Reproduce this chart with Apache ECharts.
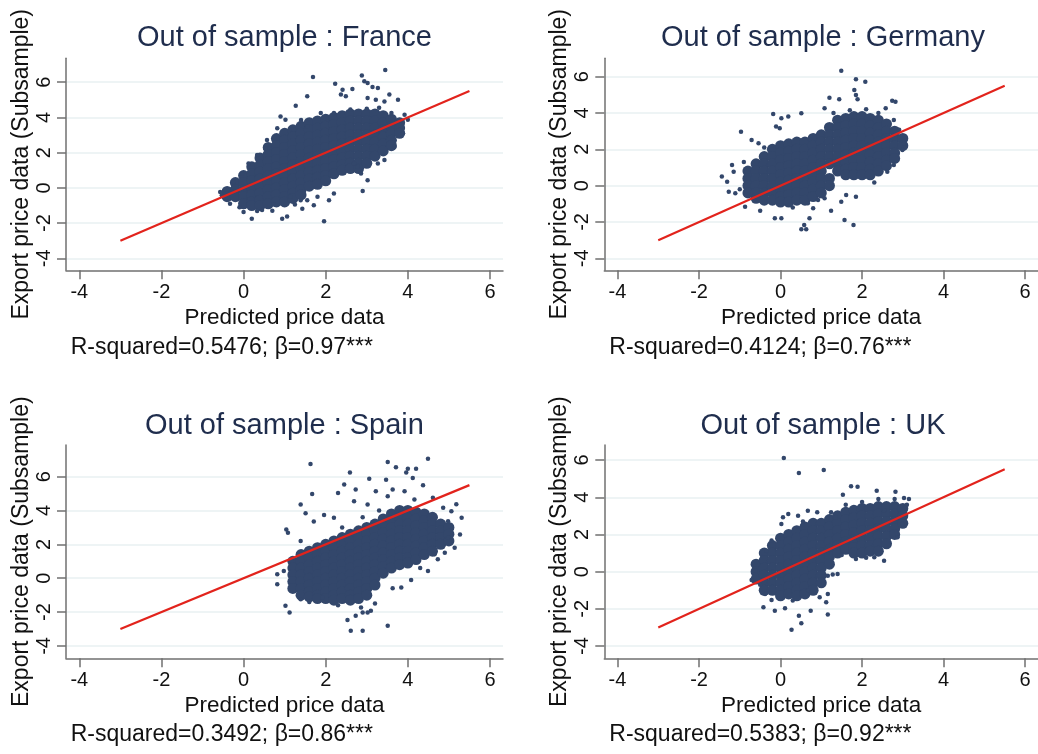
<!DOCTYPE html>
<html><head><meta charset="utf-8">
<script src="https://cdn.jsdelivr.net/npm/echarts@6/dist/echarts.min.js"></script>
<style>html,body{margin:0;padding:0;background:#fff}#c{width:1038px;height:754px}</style>
</head><body><div id="c"></div>
<script>
// ---- text ----
const panelTitles = ['Out of sample : France','Out of sample : Germany','Out of sample : Spain','Out of sample : UK'];
const statTexts = ['R-squared=0.5476; β=0.97***','R-squared=0.4124; β=0.76***','R-squared=0.3492; β=0.86***','R-squared=0.5383; β=0.92***'];
const xAxisName = 'Predicted price data';
const yAxisName = 'Export price data (Subsample)';
const xTickValues = [-4,-2,0,2,4,6];
const yTickValues = [-4,-2,0,2,4,6];
// fitted 45-degree line endpoints (same in every panel)
const fitX = [-3, 5.5];
const fitY = [-3, 5.5];

// ---- dense cores: [x, [y values in that column]] ----
const franceCore = [
 [-0.4,[-0.2,-0.5]],
 [-0.2,[0.3,-0.1,-0.5]],
 [0.0,[0.7,0.3,-0.1,-0.5,-0.9]],
 [0.2,[1.2,0.8,0.4,0.0,-0.4,-0.8,-1.0]],
 [0.4,[1.7,1.3,0.9,0.5,0.1,-0.3,-0.7,-1.0]],
 [0.6,[2.3,1.9,1.5,1.1,0.7,0.3,-0.1,-0.5,-0.9]],
 [0.8,[2.8,2.4,2.0,1.6,1.2,0.8,0.4,0.0,-0.4,-0.8]],
 [1.0,[3.1,2.7,2.3,1.9,1.5,1.1,0.7,0.3,-0.1,-0.5,-0.8]],
 [1.2,[3.3,2.9,2.5,2.1,1.7,1.3,0.9,0.5,0.1,-0.3,-0.6]],
 [1.4,[3.5,3.1,2.7,2.3,1.9,1.5,1.1,0.7,0.3,-0.1,-0.4]],
 [1.6,[3.7,3.3,2.9,2.5,2.1,1.7,1.3,0.9,0.5,0.1]],
 [1.8,[3.8,3.4,3.0,2.6,2.2,1.8,1.4,1.0,0.6,0.2]],
 [2.0,[3.9,3.5,3.1,2.7,2.3,1.9,1.5,1.1,0.7,0.4]],
 [2.2,[4.0,3.6,3.2,2.8,2.4,2.0,1.6,1.2,0.8]],
 [2.4,[4.1,3.7,3.3,2.9,2.5,2.1,1.7,1.3,1.0]],
 [2.6,[4.2,3.8,3.4,3.0,2.6,2.2,1.8,1.4,1.1]],
 [2.8,[4.2,3.8,3.4,3.0,2.6,2.2,1.8,1.4,1.1]],
 [3.0,[4.2,3.8,3.4,3.0,2.6,2.2,1.8,1.4]],
 [3.2,[4.2,3.8,3.4,3.0,2.6,2.2,1.8]],
 [3.4,[4.1,3.7,3.3,2.9,2.5,2.1]],
 [3.6,[3.9,3.5,3.1,2.7,2.4]],
 [3.8,[3.7,3.4,3.1]]
];
const franceOut = [
 [1.69,6.3],[2.88,6.38],[3.45,6.69],[1.55,5.2],[2.23,5.92],[2.41,5.58],[2.65,5.62],[2.94,6.06],[3.02,5.96],[3.14,5.73],
 [3.27,5.68],[2.37,5.3],[2.49,5.2],[3.02,5.1],[3.22,5.0],[3.43,4.91],[3.55,5.3],[3.76,5.0],[1.27,4.67],[0.9,4.06],
 [1.02,3.87],[0.82,3.39],[0.57,2.72],[0.53,2.25],[0.33,1.87],[0.12,1.39],[-0.04,0.82],[-0.24,0.34],[-0.57,-0.23],[-0.53,-0.42],
 [-0.33,-0.9],[0,-1.37],[0.2,-1.75],[0.33,-1.31],[0.94,-1.75],[1.06,-1.62],[1.43,-1.18],[1.71,-0.99],[1.96,-1.89],[2.08,-0.7],
 [2.2,-0.32],[2.9,-0.17],[3.02,0.44],[3.27,1.39],[3.43,1.58],[3.67,2.34],[3.88,3.1],[4.0,3.87],[3.92,4.15],[2.69,1.39],
 [2.78,1.2],[2.86,0.82],[1.39,-0.7],[0.73,-0.93],[1.14,-0.51],[1.55,-0.7],[1.8,-0.51],[1.88,4.25],[1.55,3.49],[1.22,3.3],
 [2.6,4.45],[3.0,4.5],[3.3,4.55],[2.2,4.25],[1.4,3.85],[3.6,4.25],[0.45,-1.25],[0.7,-1.3],[-0.1,-1.1],[1.25,-0.95]
];

const germanyCore = [
 [-0.8,[0.8,0.4,0.0,-0.4]],
 [-0.6,[1.2,0.8,0.4,0.0,-0.4,-0.7]],
 [-0.4,[1.6,1.2,0.8,0.4,0.0,-0.4,-0.8]],
 [-0.2,[2.0,1.6,1.2,0.8,0.4,0.0,-0.4,-0.8]],
 [0.0,[2.2,1.8,1.4,1.0,0.6,0.2,-0.2,-0.6,-0.9]],
 [0.2,[2.3,1.9,1.5,1.1,0.7,0.3,-0.1,-0.5,-0.9]],
 [0.4,[2.4,2.0,1.6,1.2,0.8,0.4,0.0,-0.4,-0.8]],
 [0.6,[2.4,2.0,1.6,1.2,0.8,0.4,0.0,-0.4,-0.8]],
 [0.8,[2.6,2.2,1.8,1.4,1.0,0.6,0.2,-0.2,-0.6]],
 [1.0,[2.8,2.4,2.0,1.6,1.2,0.8,0.4,0.0,-0.4]],
 [1.2,[3.2,2.8,2.4,2.0,1.6,1.2,0.4,0.0]],
 [1.4,[3.6,3.2,2.8,2.4,2.0,1.6,1.2,0.8]],
 [1.6,[3.7,3.3,2.9,2.5,2.1,1.7,1.3,0.9,0.6]],
 [1.8,[3.8,3.4,3.0,2.6,2.2,1.8,1.4,1.0,0.6]],
 [2.0,[3.8,3.4,3.0,2.6,2.2,1.8,1.4,1.0,0.6]],
 [2.2,[3.7,3.3,2.9,2.5,2.1,1.7,1.3,0.9,0.6]],
 [2.4,[3.6,3.2,2.8,2.4,2.0,1.6,1.2,0.8]],
 [2.6,[3.4,3.0,2.6,2.2,1.8,1.4,1.1]],
 [2.8,[3.0,2.6,2.2,1.8,1.5]],
 [3.0,[2.6,2.2]]
];
const germanyOut = [
 [1.49,6.33],[1.85,5.85],[2.08,5.72],[1.81,5.27],[1.85,4.99],[1.89,4.75],[1.2,4.84],[1.44,4.75],[1.08,4.26],[2.74,4.68],
 [2.82,4.62],[2.58,4.26],[-0.18,3.94],[0.02,3.71],[0.19,3.8],[0.51,3.98],[-0.11,3.25],[-0.02,3.16],[-0.97,2.97],[-0.71,2.51],
 [-0.54,2.33],[-1.44,0.5],[-1.31,0.22],[-1.19,1.14],[-1.15,0.77],[-1.27,-0.33],[-1.11,-0.42],[-0.87,-1.16],[-0.5,-1.38],[-0.14,-1.8],
 [0.02,-1.8],[0.51,-2.4],[0.63,-2.4],[0.58,-2.17],[0.71,-1.8],[0.8,-1.25],[1.24,-1.38],[1.49,-0.88],[1.61,-0.51],[1.57,-1.89],
 [1.79,-2.17],[1.85,-0.61],[2.3,0.17],[2.62,0.77],[2.78,1.14],[3.03,2.33],[2.99,1.96],[2.91,3.07],[2.78,3.61],[0.92,-0.79],
 [1.08,-0.7],[0.67,-0.97],[-0.9,1.3],[-1.0,-0.2],[-0.4,2.1],[0.3,-1.2],[1.3,4.0],[1.7,4.15],[2.1,4.2],[2.4,4.0]
];

const spainCore = [
 [1.2,[1.0,0.6,0.2,-0.2,-0.6]],
 [1.4,[1.4,1.0,0.6,0.2,-0.2,-0.6,-1.0]],
 [1.6,[1.6,1.2,0.8,0.4,0.0,-0.4,-0.8,-1.1]],
 [1.8,[1.8,1.4,1.0,0.6,0.2,-0.2,-0.6,-1.0,-1.2]],
 [2.0,[2.0,1.6,1.2,0.8,0.4,0.0,-0.4,-0.8,-1.2]],
 [2.2,[2.2,1.8,1.4,1.0,0.6,0.2,-0.2,-0.6,-1.0,-1.3]],
 [2.4,[2.4,2.0,1.6,1.2,0.8,0.4,0.0,-0.4,-0.8,-1.2]],
 [2.6,[2.6,2.2,1.8,1.4,1.0,0.6,0.2,-0.2,-0.6,-1.0,-1.3]],
 [2.8,[2.8,2.4,2.0,1.6,1.2,0.8,0.4,0.0,-0.4,-0.8,-1.2]],
 [3.0,[3.0,2.6,2.2,1.8,1.4,1.0,0.6,0.2,-0.2,-0.6,-1.0]],
 [3.2,[3.2,2.8,2.4,2.0,1.6,1.2,0.8,0.4,0.0,-0.4]],
 [3.4,[3.5,3.1,2.7,2.3,1.9,1.5,1.1,0.7,0.3]],
 [3.6,[3.8,3.4,3.0,2.6,2.2,1.8,1.4,1.0,0.6]],
 [3.8,[4.0,3.6,3.2,2.8,2.4,2.0,1.6,1.2,0.8]],
 [4.0,[4.0,3.6,3.2,2.8,2.4,2.0,1.6,1.2,0.9]],
 [4.2,[3.9,3.5,3.1,2.7,2.3,1.9,1.5,1.1]],
 [4.4,[3.8,3.4,3.0,2.6,2.2,1.8,1.4]],
 [4.6,[3.6,3.2,2.8,2.4,2.0,1.6]],
 [4.8,[3.2,2.8,2.4,2.0]],
 [5.0,[3.0,2.6,2.2]]
];
const spainOut = [
 [1.63,6.75],[2.59,6.25],[3.51,6.86],[3.71,6.55],[4.0,6.47],[4.2,6.47],[4.49,7.06],[3.96,6.24],[3.06,5.88],[3.47,5.82],
 [4.12,5.92],[4.37,5.49],[2.45,5.53],[1.67,4.98],[2.3,5.04],[2.73,5.24],[3.22,5.14],[3.63,5.24],[1.39,4.35],[4.16,4.65],
 [5.06,3.96],[5.31,3.57],[5.18,4.37],[5.27,2.59],[5.14,1.8],[4.65,1.41],[4.49,0.43],[4.08,-0.1],[3.84,-0.55],[3.63,-0.59],
 [3.51,-2.8],[2.61,-3.1],[2.9,-3.1],[2.53,-2.47],[2.73,-2.22],[2.9,-2.02],[3.02,-2.02],[3.1,-1.92],[2.86,-1.73],[1.92,-1.14],
 [1.39,-1.24],[1.02,-1.63],[1.12,-2.02],[0.82,-0.35],[0.82,0.24],[0.98,0.43],[1.04,2.88],[1.08,2.69],[1.39,2.2],[1.51,3.84],
 [1.71,3.35],[1.96,3.73],[2.2,3.57],[2.69,4.55],[3.02,4.35],[3.51,4.84],[3.92,5.14],[4.61,4.75],[4.86,4.16],[4.98,3.37],
 [4.98,2.39],[4.9,1.51],[4.73,1.12],[2.4,3.0],[2.9,3.6],[3.3,4.0],[3.2,-1.5],[2.3,-1.6],[1.6,-1.4],[4.3,0.6]
];

const ukCore = [
 [-0.6,[0.4,0.0,-0.4]],
 [-0.4,[1.0,0.6,0.2,-0.2,-0.6,-1.0]],
 [-0.2,[1.4,1.0,0.6,0.2,-0.2,-0.6,-1.0]],
 [0.0,[1.8,1.4,1.0,0.6,0.2,-0.2,-0.6,-1.0,-1.3]],
 [0.2,[2.0,1.6,1.2,0.8,0.4,0.0,-0.4,-0.8,-1.2]],
 [0.4,[2.2,1.8,1.4,1.0,0.6,0.2,-0.2,-0.6,-1.0,-1.3]],
 [0.6,[2.4,2.0,1.6,1.2,0.8,0.4,0.0,-0.4,-0.8,-1.2]],
 [0.8,[2.6,2.2,1.8,1.4,1.0,0.6,0.2,-0.2,-0.6,-1.0]],
 [1.0,[2.6,2.2,1.8,1.4,1.0,0.6,0.2,-0.2,-0.6]],
 [1.2,[2.8,2.4,2.0,1.6,1.2,0.8,0.4]],
 [1.4,[3.0,2.6,2.2,1.8,1.4,1.0]],
 [1.6,[3.2,2.8,2.4,2.0,1.6,1.2]],
 [1.8,[3.3,2.9,2.5,2.1,1.7,1.3,1.0]],
 [2.0,[3.4,3.0,2.6,2.2,1.8,1.4,1.0]],
 [2.2,[3.4,3.0,2.6,2.2,1.8,1.4,1.1]],
 [2.4,[3.5,3.1,2.7,2.3,1.9,1.5,1.1]],
 [2.6,[3.5,3.1,2.7,2.3,1.9,1.5]],
 [2.8,[3.5,3.1,2.7,2.3,2.0]],
 [3.0,[3.4,3.0,2.6]]
];
const ukOut = [
 [0.08,6.11],[0.45,5.3],[1.06,5.47],[1.53,4.14],[1.73,4.59],[1.89,4.57],[2.36,4.35],[2.82,4.3],[3.03,3.96],[3.15,3.91],
 [0.19,3.1],[0.43,3.01],[0.67,3.28],[1.24,3.19],[2.54,3.28],[3.03,2.92],[2.99,2.56],[2.87,1.85],[2.54,0.59],[2.3,0.77],
 [1.85,0.68],[1.4,-0.13],[1.28,-0.16],[1.16,-1.2],[1.12,-1.65],[1.16,-2.31],[0.74,-2.1],[0.51,-2.78],[0.45,-2.37],[0.27,-3.12],
 [0.11,-1.97],[-0.14,-2.1],[-0.42,-1.92],[-0.38,-1.2],[-0.22,-1.52],[-0.71,-0.45],[-0.61,0.05],[-0.34,1.13],[-0.22,1.67],[0.02,2.56],
 [0.06,2.92],[0.67,-1.02],[0.96,-1.38],[1.16,-0.22],[0.9,3.2],[1.6,3.6],[2.0,3.75],[2.4,3.9],[2.8,3.9],[3.1,3.6],
 [1.5,0.9],[2.1,0.75],[0.3,-1.55],[-0.5,-0.7],[0.55,2.7],[1.35,2.9]
];

// ---- render ----
const FONT = '"Liberation Sans", Arial, Helvetica, sans-serif';
const PT = '#33476b';
const AX = '#707070';
const panels = [
 {core: franceCore,  out: franceOut,  grid:{left:66,   top:58.3, width:437, height:212},   yMin:-4.68, yMax:7.36, titleX:284.5, titleY:38,  statX:70.7,  statY:348},
 {core: germanyCore, out: germanyOut, grid:{left:604.3,top:58.3, width:437, height:212},   yMin:-4.66, yMax:7.01, titleX:823,   titleY:38,  statX:609.3, statY:348},
 {core: spainCore,   out: spainOut,   grid:{left:66,   top:445,  width:437, height:213.3}, yMin:-4.73, yMax:7.87, titleX:284.5, titleY:426, statX:70.7,  statY:734.5},
 {core: ukCore,      out: ukOut,      grid:{left:604.3,top:445,  width:437, height:213.3}, yMin:-4.66, yMax:6.81, titleX:823,   titleY:426, statX:609.3, statY:734.5}
];
function flatten(cols){ const r=[]; cols.forEach(c=>c[1].forEach(y=>r.push([c[0],y]))); return r; }

const option = {animation:false, backgroundColor:'#fff', title:[], grid:[], xAxis:[], yAxis:[], series:[]};
panels.forEach((p,i)=>{
  option.title.push({text:panelTitles[i], left:p.titleX, top:p.titleY, padding:0, textAlign:'center', textVerticalAlign:'middle',
    textStyle:{fontSize:29, fontWeight:'normal', color:'#1f2d4d', fontFamily:FONT}});
  option.title.push({text:statTexts[i], left:p.statX, top:p.statY, padding:0, textAlign:'left', textVerticalAlign:'middle',
    textStyle:{fontSize:23, fontWeight:'normal', color:'#111', fontFamily:FONT}});
  option.grid.push(Object.assign({containLabel:false}, p.grid));
  option.xAxis.push({gridIndex:i, type:'value', min:-4.324, max:6.317,
    axisLine:{show:true, onZero:false, lineStyle:{color:AX, width:1.5}},
    axisTick:{show:true, length:9, customValues:xTickValues, lineStyle:{color:AX, width:1.5}},
    axisLabel:{customValues:xTickValues, fontSize:20, color:'#111', margin:12, fontFamily:FONT},
    splitLine:{show:false},
    name:xAxisName, nameLocation:'middle', nameGap:36, nameTextStyle:{fontSize:22.5, color:'#111', fontFamily:FONT}});
  option.yAxis.push({gridIndex:i, type:'value', min:p.yMin, max:p.yMax,
    axisLine:{show:true, onZero:false, lineStyle:{color:AX, width:1.5}},
    axisTick:{show:true, length:9, customValues:yTickValues, lineStyle:{color:AX, width:1.5}},
    axisLabel:{customValues:yTickValues, rotate:90, fontSize:20, color:'#111', margin:12, fontFamily:FONT},
    splitLine:{show:true, lineStyle:{color:'#e8f0f2', width:1.5}},
    name:yAxisName, nameLocation:'middle', nameRotate:90, nameGap:32, nameTextStyle:{fontSize:23, color:'#111', fontFamily:FONT}});
  option.series.push({type:'scatter', xAxisIndex:i, yAxisIndex:i, data:flatten(p.core), symbolSize:11, itemStyle:{color:PT, opacity:1}, emphasis:{disabled:true}, silent:true, z:2});
  option.series.push({type:'scatter', xAxisIndex:i, yAxisIndex:i, data:p.out, symbolSize:4.5, itemStyle:{color:PT, opacity:1}, emphasis:{disabled:true}, silent:true, z:2});
  option.series.push({type:'line', xAxisIndex:i, yAxisIndex:i, data:[[fitX[0],fitY[0]],[fitX[1],fitY[1]]], symbol:'none', showSymbol:false,
    lineStyle:{color:'#e2231c', width:2.2}, emphasis:{disabled:true}, silent:true, z:5});
});
const chart = echarts.init(document.getElementById('c'), null, {renderer:'canvas'});
chart.setOption(option);
</script></body></html>
